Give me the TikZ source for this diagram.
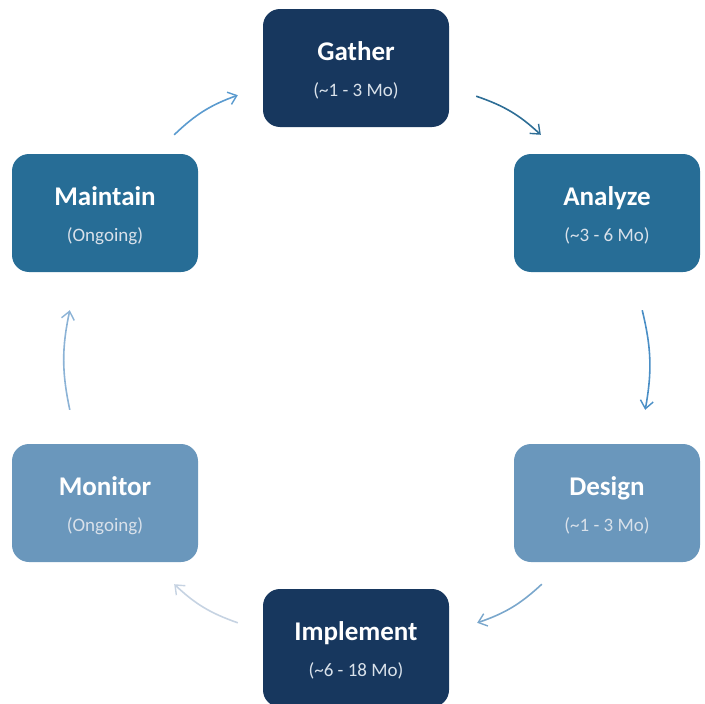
\documentclass[tikz,border=0pt]{standalone}
\usepackage{fontspec}
\setmainfont{Carlito}
\usetikzlibrary{arrows.meta,positioning}

\definecolor{navy}{HTML}{17375E}
\definecolor{midblue}{HTML}{276D96}
\definecolor{paleblue}{HTML}{6A97BC}
\definecolor{subtxt}{HTML}{D9E1EA}
\definecolor{arrA}{HTML}{5B9BCF}
\definecolor{arrB}{HTML}{2E6E96}
\definecolor{arrC}{HTML}{4B8FC6}
\definecolor{arrD}{HTML}{7AA7CC}
\definecolor{arrE}{HTML}{C6D3E2}
\definecolor{arrF}{HTML}{8CB3D6}

\tikzset{
  phase/.style={draw=none, fill=#1, rounded corners=17pt,
    minimum width=186pt, minimum height=118pt, inner sep=0pt,
    text=white},
  flow/.style={line width=1.6pt, draw=#1, bend left=12,
    -{Straight Barb[length=8pt,width=13pt,line width=1.4pt]}},
}
% title line and duration line, set a little below the box centre
\newcommand{\phasetext}[2]{%
  \raisebox{-5.5pt}[0pt][0pt]{\begin{tabular}{@{}c@{}}%
  {\fontsize{27}{27}\selectfont\bfseries #1}\\[19pt]%
  {\fontsize{19}{19}\selectfont\color{subtxt}#2}%
  \end{tabular}}}

\begin{document}
\begin{tikzpicture}[x=1pt,y=-1pt]
  \useasboundingbox (0,0) rectangle (705,704);
  \clip (0,0) rectangle (705,704);

  \node[phase=navy]     (gather)    at (356,68)  {\phasetext{Gather}{(\textasciitilde1 - 3 Mo)}};
  \node[phase=midblue]  (analyze)   at (607,213) {\phasetext{Analyze}{(\textasciitilde3 - 6 Mo)}};
  \node[phase=paleblue] (design)    at (607,503) {\phasetext{Design}{(\textasciitilde1 - 3 Mo)}};
  \node[phase=navy]     (implement) at (356,648) {\phasetext{Implement}{(\textasciitilde6 - 18 Mo)}};
  \node[phase=paleblue] (monitor)   at (105,503) {\phasetext{Monitor}{(Ongoing)}};
  \node[phase=midblue]  (maintain)  at (105,213) {\phasetext{Maintain}{(Ongoing)}};

  % clockwise cycle of short curved arrows between the phases
  \draw[flow=arrA] ([shift={(-24,-19)}]maintain.north east)
      to ([shift={(-25,-32)}]gather.south west);
  \draw[flow=arrB] ([shift={(27,-31)}]gather.south east)
      to ([shift={(27,-19)}]analyze.north west);
  \draw[flow=arrC] ([shift={(-58,38)}]analyze.south east)
      to ([shift={(-55,-34)}]design.north east);
  \draw[flow=arrD] ([shift={(28,22)}]design.south west)
      to ([shift={(28,34)}]implement.north east);
  \draw[flow=arrE] ([shift={(-25,34)}]implement.north west)
      to ([shift={(-24,22)}]monitor.south east);
  \draw[flow=arrF] ([shift={(58,-34)}]monitor.north west)
      to ([shift={(58,38)}]maintain.south west);
\end{tikzpicture}
\end{document}
